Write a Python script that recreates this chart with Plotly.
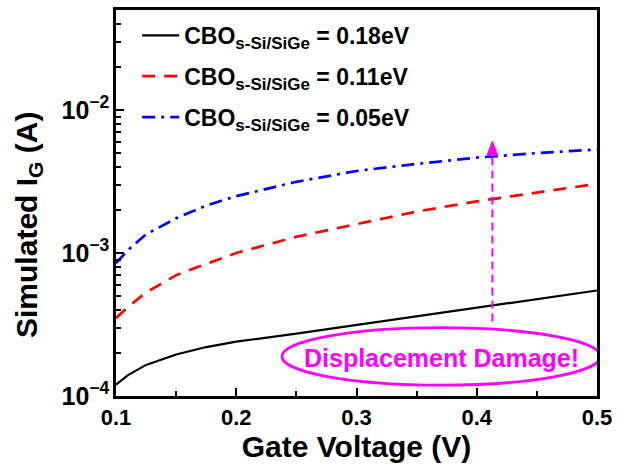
import plotly.graph_objects as go

# Gate voltage sweep (V)
gate_voltage = [0.1, 0.11, 0.125, 0.15, 0.175, 0.2, 0.25, 0.3, 0.35, 0.4, 0.45, 0.5]

# Simulated gate current (A) for each conduction band offset
ig_cbo_018 = [1.2e-4, 1.4e-4, 1.65e-4, 1.95e-4, 2.2e-4, 2.4e-4, 2.73e-4, 3.13e-4, 3.6e-4, 4.14e-4, 4.76e-4, 5.47e-4]
ig_cbo_011 = [3.5e-4, 4.2e-4, 5.3e-4, 7.0e-4, 8.4e-4, 1.0e-3, 1.3e-3, 1.6e-3, 1.95e-3, 2.3e-3, 2.65e-3, 3.05e-3]
ig_cbo_005 = [8.5e-4, 1.05e-3, 1.35e-3, 1.75e-3, 2.15e-3, 2.5e-3, 3.15e-3, 3.75e-3, 4.2e-3, 4.65e-3, 5.0e-3, 5.3e-3]

series_labels = ["0.18eV", "0.11eV", "0.05eV"]

# Annotation placement
arrow_x = 0.413
arrow_base, arrow_tip = 0.193, 0.66
note_text = "Displacement Damage!"

FONT = "Liberation Sans, Arial, sans-serif"
MAGENTA = "#FF00FF"


def legend_name(value):
    return ("<b>CBO<sub><span style='font-size:17px'>s-Si/SiGe</span></sub>"
            " = " + value + "</b>")


fig = go.Figure()
styles = [
    (ig_cbo_018, "black", "solid", 2.2),
    (ig_cbo_011, "#FF0000", "13px,9px", 2.7),
    (ig_cbo_005, "#0000FF", "13px,6px,3px,6px", 2.7),
]
for i, ((vals, color, dash, w), lab) in enumerate(zip(styles, series_labels)):
    fig.add_trace(go.Scatter(
        x=gate_voltage, y=vals, mode="lines", name=legend_name(lab),
        legendgroup=f"g{i}",
        line=dict(color=color, width=w, dash=dash),
    ))

# Dashed arrow shaft and head
fig.add_shape(type="line", xref="x", yref="paper",
              x0=arrow_x, x1=arrow_x, y0=arrow_base, y1=arrow_tip - 0.035,
              line=dict(color=MAGENTA, width=2, dash="8px,5px"))
fig.add_shape(type="path", xref="x", yref="paper",
              path=f"M {arrow_x - 0.0045},{arrow_tip - 0.037} L {arrow_x + 0.0045},{arrow_tip - 0.037} "
                   f"L {arrow_x},{arrow_tip} Z",
              fillcolor=MAGENTA, line=dict(color=MAGENTA, width=1))

# Ellipse around the note
fig.add_shape(type="circle", xref="x", yref="paper",
              x0=0.238, x1=0.503, y0=0.028, y1=0.177,
              line=dict(color=MAGENTA, width=2.8))
fig.add_annotation(x=0.3705, y=0.098, xref="x", yref="paper",
                   xanchor="center", yanchor="middle",
                   text="<b>" + note_text + "</b>", showarrow=False,
                   font=dict(family=FONT, size=25, color=MAGENTA))

# Y-axis title
fig.add_annotation(x=-0.183, y=0.443, xref="paper", yref="paper",
                   xanchor="center", yanchor="middle", textangle=-90,
                   text="<b>Simulated I<sub>G</sub> (A)</b>", showarrow=False,
                   font=dict(family=FONT, size=30, color="black"))

axis_common = dict(
    showline=True, linecolor="black", linewidth=2.5, mirror=True,
    ticks="inside", tickcolor="black", tickwidth=2, ticklen=8,
    showgrid=False, zeroline=False,
)

fig.update_xaxes(
    range=[0.1, 0.5], dtick=0.1, tick0=0.1,
    tickfont=dict(family=FONT, size=22, color="black", weight="bold"),
    minor=dict(ticks="inside", dtick=0.05, ticklen=5, tickwidth=2, tickcolor="black"),
    title=dict(text="<b>Gate Voltage (V)</b>", font=dict(family=FONT, size=30, color="black"), standoff=6),
    **axis_common,
)
fig.update_yaxes(
    type="log", range=[-4, -1.3], dtick=1, exponentformat="power",
    tickfont=dict(family=FONT, size=20, color="black", weight="bold"),
    minor=dict(ticks="inside", dtick="D1", ticklen=5, tickwidth=2, tickcolor="black"),
    **axis_common,
)
fig.update_layout(
    width=627, height=470,
    margin=dict(l=116, r=30, t=7, b=74),
    plot_bgcolor="white", paper_bgcolor="white",
    font=dict(family=FONT, color="black"),
    legend=dict(x=0.044, y=0.99, xanchor="left", yanchor="top",
                bgcolor="rgba(0,0,0,0)", borderwidth=0, itemwidth=37,
                tracegroupgap=8,
                font=dict(family=FONT, size=23, color="black")),
    showlegend=True,
)

fig.write_html("out.html")
